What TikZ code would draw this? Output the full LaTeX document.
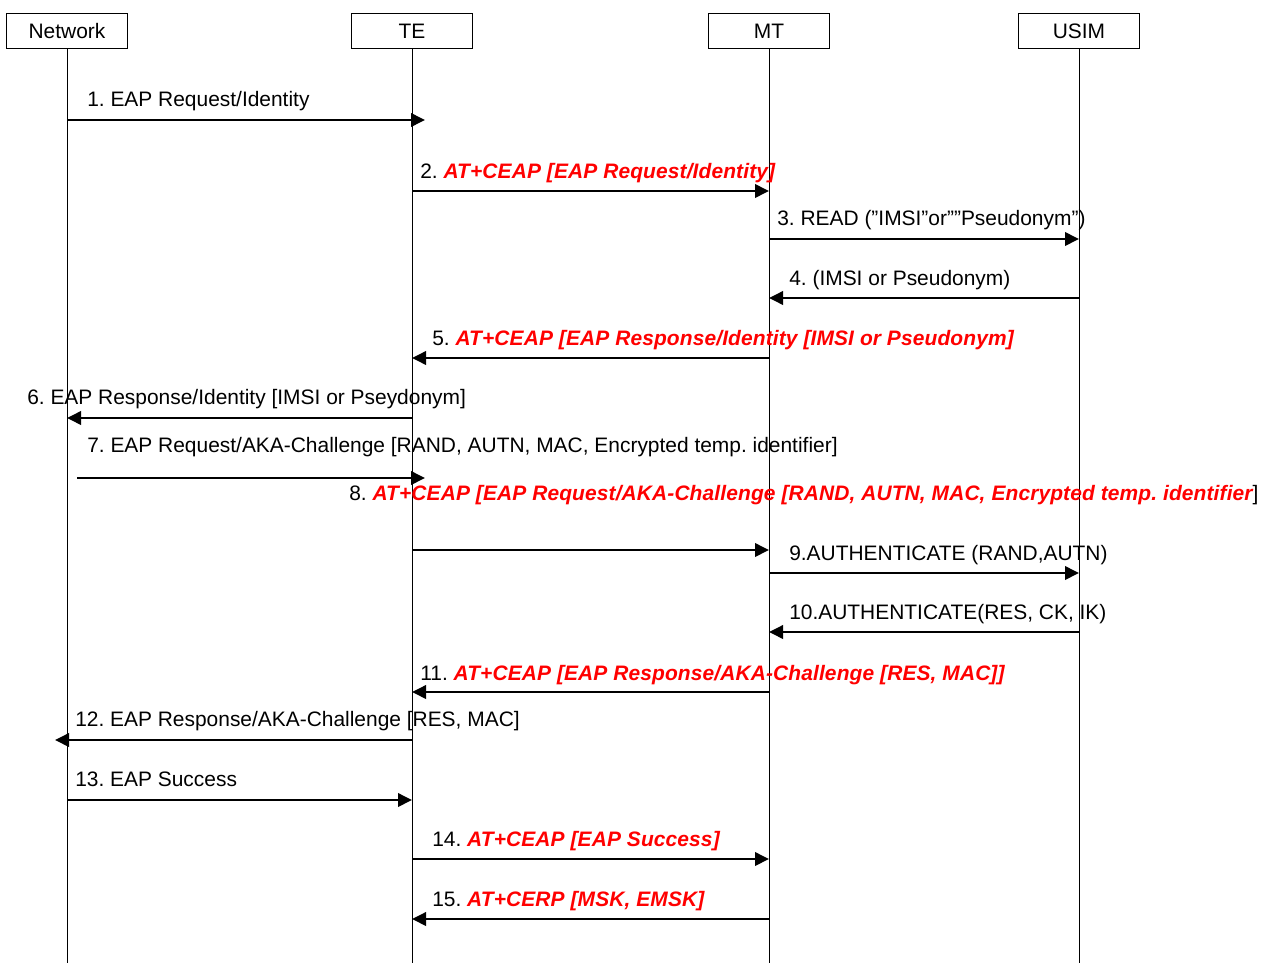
\documentclass[tikz,border=0pt]{standalone}
\usepackage{fontspec}
\setmainfont{Liberation Sans}
\usetikzlibrary{arrows.meta,calc}
\definecolor{msgred}{RGB}{255,0,0}
\newcommand\lblfont{\fontsize{15.7}{18}\selectfont\frenchspacing}
\newcommand\rb[1]{\textcolor{msgred}{\bfseries\itshape\addfontfeatures{LetterSpace=0.6} #1}}
\tikzset{
  head/.style={draw, line width=0.75pt, minimum width=90.75pt, minimum height=26.25pt, inner sep=0pt, font=\lblfont},
  lifeline/.style={line width=0.6pt},
  msg/.style={line width=1.9pt, -{Triangle[length=10.5pt,width=10pt]}},
  lab/.style={anchor=base west, inner sep=0pt, font=\lblfont},
}
\begin{document}
\begin{tikzpicture}[x=0.75pt,y=-0.75pt]
\useasboundingbox (0,0) rectangle (1262,963);
% heads
\node[head] (net) at (67,31) {Network};
\node[head] (te) at (412,31) {TE};
\node[head] (mt) at (769,31) {MT};
\node[head] (usim) at (1079,31) {USIM};
% lifelines
\coordinate (netb) at (net.center |- 0,963);
\coordinate (teb) at (te.center |- 0,963);
\coordinate (mtb) at (mt.center |- 0,963);
\coordinate (usimb) at (usim.center |- 0,963);
\draw[lifeline] (net.south) -- (netb);
\draw[lifeline] (te.south) -- (teb);
\draw[lifeline] (mt.south) -- (mtb);
\draw[lifeline] (usim.south) -- (usimb);
% free ends
\coordinate (e1) at (425,120);
\coordinate (s7) at (77,478);
\coordinate (e7) at (425,478);
\coordinate (e12) at (55,740);
% messages
\draw[msg] (net |- 0,120) -- (e1);
\node[lab] (l1) at (87,107) {1. EAP Request/Identity};
\draw[msg] (te |- 0,191) -- (mt |- 0,191);
\node[lab] (l2) at (420,178) {2. \rb{AT+CEAP [EAP Request/Identity]}};
\draw[msg] (mt |- 0,239) -- (usim |- 0,239);
\node[lab] (l3) at (777,225) {3. READ (”IMSI”or””Pseudonym”)};
\draw[msg] (usim |- 0,298) -- (mt |- 0,298);
\node[lab] (l4) at (789,285) {4. (IMSI or Pseudonym)};
\draw[msg] (mt |- 0,358) -- (te |- 0,358);
\node[lab] (l5) at (432,345) {5. \rb{AT+CEAP [EAP Response/Identity [IMSI or Pseudonym]}};
\draw[msg] (te |- 0,418) -- (net |- 0,418);
\node[lab] (l6) at (27,404) {6. EAP Response/Identity [IMSI or Pseydonym]};
\draw[msg] (s7) -- (e7);
\node[lab] (l7) at (87,452) {7. EAP Request/AKA-Challenge [RAND, AUTN, MAC, Encrypted temp. identifier]};
\node[lab] (l8) at (349,500) {8. \rb{AT+CEAP [EAP Request/AKA-Challenge [RAND, AUTN, MAC, Encrypted temp. identifier}]};
\draw[msg] (te |- 0,550) -- (mt |- 0,550);
\draw[msg] (mt |- 0,573) -- (usim |- 0,573);
\node[lab] (l9) at (789,560) {9.AUTHENTICATE (RAND,AUTN)};
\draw[msg] (usim |- 0,632) -- (mt |- 0,632);
\node[lab] (l10) at (789,619) {10.AUTHENTICATE(RES, CK, IK)};
\draw[msg] (mt |- 0,692) -- (te |- 0,692);
\node[lab] (l11) at (420,680) {11. \rb{AT+CEAP [EAP Response/AKA-Challenge [RES, MAC]]}};
\draw[msg] (te |- 0,740) -- (e12);
\node[lab] (l12) at (75,726) {12. EAP Response/AKA-Challenge [RES, MAC]};
\draw[msg] (net |- 0,800) -- (te |- 0,800);
\node[lab] (l13) at (75,786) {13. EAP Success};
\draw[msg] (te |- 0,859) -- (mt |- 0,859);
\node[lab] (l14) at (432,846) {14. \rb{AT+CEAP [EAP Success]}};
\draw[msg] (mt |- 0,919) -- (te |- 0,919);
\node[lab] (l15) at (432,906) {15. \rb{AT+CERP [MSK, EMSK]}};
\end{tikzpicture}
\end{document}
